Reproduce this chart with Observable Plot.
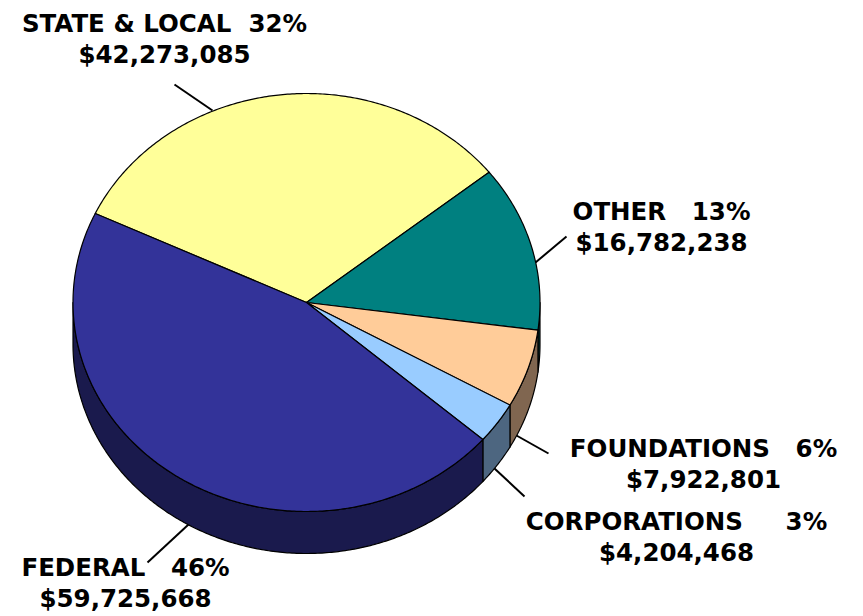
<!DOCTYPE html>
<html><head><meta charset="utf-8">
<script src="https://cdn.jsdelivr.net/npm/d3@7"></script>
<script src="https://cdn.jsdelivr.net/npm/@observablehq/plot@0.6"></script>
<style>html,body{margin:0;padding:0;background:#fff}svg{display:block}</style>
</head><body><div id="chart"></div>
<script>
const categories = ["STATE & LOCAL","OTHER","FOUNDATIONS","CORPORATIONS","FEDERAL"];
const amounts = [42273085,16782238,7922801,4204468,59725668];
const percentLabels = ["32%","13%","6%","3%","46%"];
const amountLabels = ["$42,273,085","$16,782,238","$7,922,801","$4,204,468","$59,725,668"];
const topColors = ["#FFFF99","#008080","#FFCC99","#99CCFF","#333399"];
const wallColors = ["#808050","#004040","#806650","#4D6680","#1A1A4D"];
const gaps = ["\u00a0\u00a0","\u00a0\u00a0\u00a0","\u00a0\u00a0\u00a0","\u00a0\u00a0\u00a0\u00a0\u00a0","\u00a0\u00a0\u00a0"];

// layout of the drawing
const W = 863, H = 616, cx = 306, cy = 302, rx = 233.5, ry = 209, depth = 42;
const startDeg = -64.8;
const labelAt = [[164,9],[661,197],[703,434],[676,507],[125,553]];
const leaders = [[174,84,212,110],[535,262,566,236],[516,435,548,453],[494,468,524,496],[147,562,188,524]];

const arcs = d3.pie().sort(null).startAngle(startDeg*Math.PI/180).endAngle((startDeg+360)*Math.PI/180)(amounts);
const rim = (a, dy=0) => [cx + rx*Math.sin(a), cy - ry*Math.cos(a) + dy];
const sample = (a0, a1) => { const n = Math.max(2, Math.ceil(Math.abs(a1-a0)/0.01)); return d3.range(n+1).map(i => a0+(a1-a0)*i/n); };

const tops = arcs.flatMap((s,i) => {
  const pts = [[cx,cy], ...sample(s.startAngle,s.endAngle).map(a => rim(a)), [cx,cy]];
  return pts.map(p => ({x:p[0],y:p[1],id:categories[i],c:topColors[i]}));
});
const walls = arcs.flatMap((s,i) => {
  const out = [];
  for (const [lo,hi] of [[Math.PI/2,3*Math.PI/2],[Math.PI/2+2*Math.PI,3*Math.PI/2+2*Math.PI],[Math.PI/2-2*Math.PI,3*Math.PI/2-2*Math.PI]]) {
    const a0 = Math.max(s.startAngle,lo), a1 = Math.min(s.endAngle,hi);
    if (a1 <= a0) continue;
    const arc = sample(a0,a1);
    const pts = [...arc.map(a => rim(a)), ...arc.slice().reverse().map(a => rim(a,depth))];
    pts.push(pts[0]);
    out.push(...pts.map(p => ({x:p[0],y:p[1],id:categories[i]+lo,c:wallColors[i]})));
  }
  return out;
});
const labels = categories.map((c,i) => ({x:labelAt[i][0],y:labelAt[i][1],t:`${c}${gaps[i]}${percentLabels[i]}\n${amountLabels[i]}`}));
const links = leaders.map(l => ({x1:l[0],y1:l[1],x2:l[2],y2:l[3]}));

const chart = Plot.plot({
  width:W,height:H,margin:0,
  x:{domain:[0,W],range:[0,W],axis:null},
  y:{domain:[0,H],range:[0,H],axis:null},
  color:{type:"identity"},
  style:{background:"#fff"},
  marks:[
    Plot.line(walls,{x:"x",y:"y",z:"id",fill:"c",stroke:"#000",strokeWidth:1.2,curve:"linear"}),
    Plot.line(tops,{x:"x",y:"y",z:"id",fill:"c",stroke:"#000",strokeWidth:1.2,curve:"linear"}),
    Plot.link(links,{x1:"x1",y1:"y1",x2:"x2",y2:"y2",stroke:"#000",strokeWidth:2}),
    Plot.text(labels,{x:"x",y:"y",text:"t",lineAnchor:"top",lineHeight:1.27,fontSize:24.5,fontWeight:"bold",fontFamily:"DejaVu Sans",fill:"#000",textAnchor:"middle"})
  ]
});
document.getElementById("chart").append(chart);
</script></body></html>
